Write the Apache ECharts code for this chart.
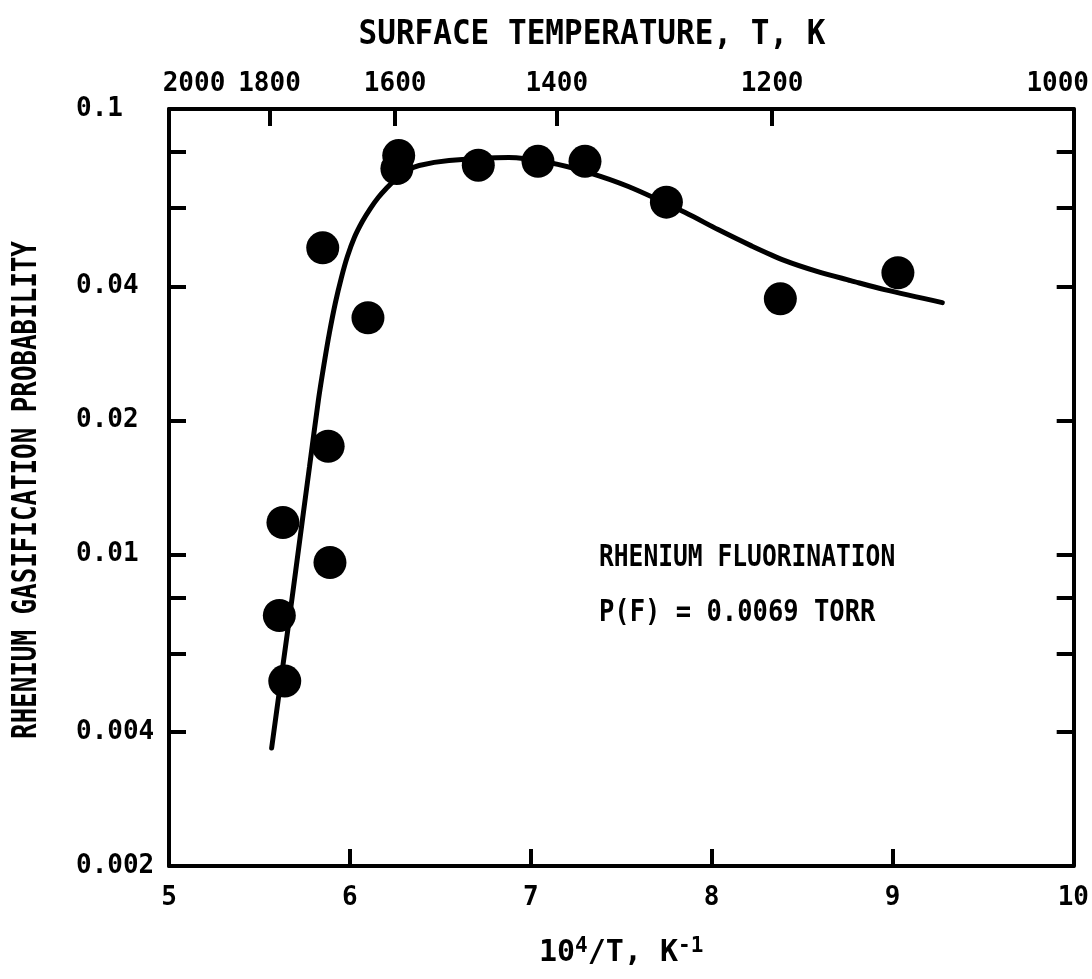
<!DOCTYPE html>
<html><head><meta charset="utf-8">
<script src="https://cdn.jsdelivr.net/npm/echarts@6/dist/echarts.min.js"></script>
<style>html,body{margin:0;padding:0;background:#fff}#c{width:1092px;height:979px}</style>
</head><body><div id="c"></div>
<script>
const FONT = "'DejaVu Sans Mono','Liberation Mono',monospace";

// Bottom axis: 10^4/T
const xTicks = [5, 6, 7, 8, 9, 10];
// Top axis: surface temperature, K
const tempTicks = [2000, 1800, 1600, 1400, 1200, 1000];
// Y axis (log) tick marks and labels
const yTickVals = [0.1, 0.08, 0.06, 0.04, 0.02, 0.01, 0.008, 0.006, 0.004, 0.002];
const yLabelVals = [0.1, 0.04, 0.02, 0.01, 0.004, 0.002];
const yLabelText = ['0.1', '0.04', '0.02', '0.01', '0.004', '0.002'];

// Measured points (10^4/T, probability)
const pointsX = [6.27, 6.26, 6.71, 7.04, 7.30, 7.75, 8.38, 9.03, 5.85, 6.10, 5.88, 5.63, 5.89, 5.61, 5.64];
const pointsY = [0.0786, 0.0735, 0.0748, 0.0763, 0.0763, 0.0618, 0.0375, 0.0429, 0.0488, 0.0340, 0.0175, 0.0118, 0.0096, 0.0073, 0.0052];

// Fitted curve
const curveX = [5.5675, 5.6187, 5.6667, 5.7355, 5.7769, 5.8264, 5.8567, 5.8871, 5.9201, 5.9532, 5.9862, 6.0248, 6.0689, 6.1129, 6.1570, 6.2011, 6.2562, 6.3168, 6.3829, 6.5482, 6.8788, 7.0992, 7.3196, 7.5399, 7.8540, 8.0358, 8.2176, 8.4050, 8.5868, 8.7686, 8.9559, 9.2755];
const curveY = [0.00368, 0.00523, 0.00725, 0.01178, 0.01575, 0.02227, 0.02668, 0.03148, 0.03677, 0.04184, 0.04664, 0.05146, 0.05589, 0.05977, 0.06328, 0.06629, 0.06981, 0.07277, 0.07467, 0.07659, 0.07781, 0.07583, 0.07201, 0.06699, 0.05856, 0.05362, 0.04936, 0.04568, 0.04316, 0.04120, 0.03932, 0.03677];

const annotation = ['RHENIUM FLUORINATION', 'P(F) = 0.0069 TORR'];
const yTitle = 'RHENIUM GASIFICATION PROBABILITY';
const topTitle = 'SURFACE TEMPERATURE, T, K';

const yMinLog = Math.log10(0.002), yMaxLog = Math.log10(0.1);
const lineStyle = { color: '#000', width: 4 };
const tickStyle = { color: '#000', width: 4 };
const labelBase = { color: '#000', fontFamily: FONT, fontSize: 26, fontWeight: 'bold' };

const chart = echarts.init(document.getElementById('c'), null, { renderer: 'canvas' });
const gridRect = { left: 169, right: 16, top: 109, bottom: 113, containLabel: false };

chart.setOption({
  animation: false,
  backgroundColor: '#fff',
  grid: [Object.assign({}, gridRect), Object.assign({}, gridRect)],
  xAxis: [
    {
      gridIndex: 0, type: 'value', position: 'bottom', min: 5, max: 10, interval: 1,
      axisLine: { show: true, onZero: false, lineStyle },
      axisTick: { show: true, inside: true, length: 17, lineStyle: tickStyle },
      axisLabel: Object.assign({ margin: 19, formatter: v => String(v) }, labelBase),
      splitLine: { show: false },
      name: '10{sup|4}/T, K{sup|-1}', nameLocation: 'middle', nameGap: 70,
      nameTextStyle: { color: '#000', fontFamily: FONT, fontSize: 30, fontWeight: 'bold',
        rich: { sup: { fontFamily: FONT, fontSize: 21, fontWeight: 'bold', verticalAlign: 'top', padding: [0, 0, 14, 0] } } }
    },
    {
      gridIndex: 1, type: 'value', position: 'top', min: 5, max: 10,
      axisLine: { show: true, onZero: false, lineStyle },
      axisTick: { show: true, inside: true, length: 17, lineStyle: tickStyle, customValues: tempTicks.map(t => 1e4 / t) },
      axisLabel: Object.assign({
        margin: 12,
        customValues: tempTicks.map(t => 1e4 / t),
        formatter: v => {
          const t = Math.round(1e4 / v / 100) * 100;
          if (t === 2000) return '{l|' + t + '}';
          if (t === 1000) return '{r|' + t + '}';
          return String(t);
        },
        rich: {
          l: { fontFamily: FONT, fontSize: 26, fontWeight: 'bold', color: '#000', padding: [0, 0, 0, 50] },
          r: { fontFamily: FONT, fontSize: 26, fontWeight: 'bold', color: '#000', padding: [0, 32, 0, 0] }
        }
      }, labelBase),
      splitLine: { show: false }
    }
  ],
  yAxis: [
    {
      gridIndex: 0, type: 'log', logBase: 10, min: 0.002, max: 0.1, show: false,
      splitLine: { show: false }
    },
    {
      gridIndex: 1, type: 'value', position: 'left', min: yMinLog, max: yMaxLog,
      axisLine: { show: true, onZero: false, lineStyle },
      axisTick: { show: true, inside: true, length: 17, lineStyle: tickStyle, customValues: yTickVals.map(v => Math.log10(v)) },
      axisLabel: Object.assign({
        margin: 93, align: 'left',
        customValues: yLabelVals.map(v => Math.log10(v)),
        formatter: v => {
          let best = 0, bd = Infinity;
          yLabelVals.forEach((lv, i) => { const d = Math.abs(Math.log10(lv) - v); if (d < bd) { bd = d; best = i; } });
          return yLabelText[best];
        }
      }, labelBase),
      splitLine: { show: false }
    },
    {
      gridIndex: 1, type: 'value', position: 'right', min: yMinLog, max: yMaxLog,
      axisLine: { show: true, onZero: false, lineStyle },
      axisTick: { show: true, inside: true, length: 17, lineStyle: tickStyle, customValues: yTickVals.map(v => Math.log10(v)) },
      axisLabel: { show: false },
      splitLine: { show: false }
    }
  ],
  series: [
    {
      type: 'line', xAxisIndex: 0, yAxisIndex: 0, smooth: 0.3, symbol: 'none',
      lineStyle: { color: '#000', width: 5, cap: 'round' },
      data: curveX.map((x, i) => [x, curveY[i]]), z: 2
    },
    {
      type: 'scatter', xAxisIndex: 0, yAxisIndex: 0, symbol: 'circle', symbolSize: 33,
      itemStyle: { color: '#000', opacity: 1 },
      data: pointsX.map((x, i) => [x, pointsY[i]]), z: 3
    }
  ],
  graphic: [
    { type: 'text', x: 592, y: 35, scaleX: 0.94, style: { text: topTitle, fill: '#000', font: 'bold 33px ' + FONT, textAlign: 'center', textVerticalAlign: 'middle' } },
    { type: 'text', x: 27, y: 490, rotation: Math.PI / 2, scaleX: 0.76, style: { text: yTitle, fill: '#000', font: 'bold 34px ' + FONT, textAlign: 'center', textVerticalAlign: 'middle' } },
    { type: 'text', x: 599, y: 558, scaleX: 0.82, style: { text: annotation[0], fill: '#000', font: 'bold 30px ' + FONT, textVerticalAlign: 'middle' } },
    { type: 'text', x: 599, y: 613, scaleX: 0.85, style: { text: annotation[1], fill: '#000', font: 'bold 30px ' + FONT, textVerticalAlign: 'middle' } }
  ]
});
</script>
</body></html>
